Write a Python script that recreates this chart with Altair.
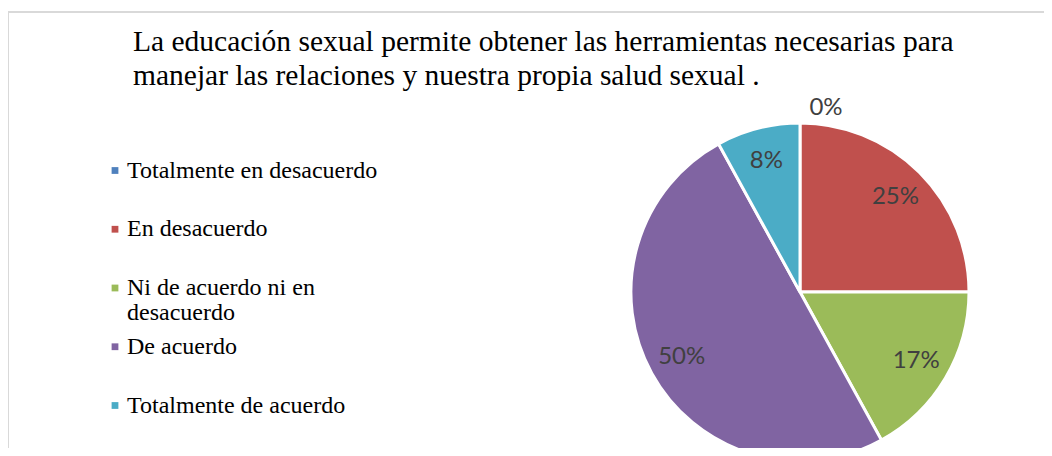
import altair as alt
import pandas as pd

categories = [
    "Totalmente en desacuerdo",
    "En desacuerdo",
    "Ni de acuerdo ni en desacuerdo",
    "De acuerdo",
    "Totalmente de acuerdo",
]
percentages = [0, 25, 17, 50, 8]
legend_labels = [
    "Totalmente en desacuerdo",
    "En desacuerdo",
    "Ni de acuerdo ni en\ndesacuerdo",
    "De acuerdo",
    "Totalmente de acuerdo",
]
colors = ["#4F81BD", "#C0504D", "#9BBB59", "#8064A2", "#4BACC6"]
title_lines = [
    "La educación sexual permite obtener las herramientas necesarias para",
    "manejar las relaciones y nuestra propia salud sexual .",
]

df = pd.DataFrame({
    "cat": categories,
    "pct": percentages,
    "label": legend_labels,
    "idx": list(range(len(categories))),
})

W, H = 1036, 440
CX, CY, R = 792, 284, 169

color = alt.Color("cat:N", scale=alt.Scale(domain=categories, range=colors), legend=None)
theta = alt.Theta("pct:Q", stack=True)
order = alt.Order("idx:Q")

base = alt.Chart(df)

pie = base.mark_arc(outerRadius=R, stroke="white", strokeWidth=3).encode(
    theta=theta, color=color, order=order,
    x=alt.value(CX), y=alt.value(CY),
)

labels = base.transform_calculate(txt="datum.pct + '%'").transform_filter(
    "datum.pct > 0"
).mark_text(radius=135, font="Lato", fontSize=24, color="#404040").encode(
    theta=theta, order=order, text="txt:N",
    x=alt.value(CX), y=alt.value(CY),
)

zero_labels = base.transform_calculate(txt="datum.pct + '%'").transform_filter(
    "datum.pct == 0"
).mark_text(radius=184, dx=26, font="Lato", fontSize=24, color="#404040").encode(
    theta=theta, order=order, text="txt:N",
    x=alt.value(CX), y=alt.value(CY),
)

ypos = alt.Y(
    "cat:N",
    scale=alt.Scale(type="point", domain=categories, range=[162.5, 397.5], padding=0),
    axis=None,
)

legend_sym = base.mark_square(size=46, opacity=1, filled=True).encode(
    x=alt.value(107), y=ypos, color=color,
)

legend_txt = base.mark_text(
    align="left", baseline="alphabetic", dy=7, lineBreak="\n", lineHeight=25,
    font="Liberation Serif", fontSize=24, color="#000000",
).encode(x=alt.value(119), y=ypos, text="label:N")

title_df = pd.DataFrame({"t": ["\n".join(title_lines)]})
title = alt.Chart(title_df).mark_text(
    align="left", baseline="alphabetic", lineBreak="\n", lineHeight=34,
    font="Liberation Serif", fontSize=29.5, color="#000000",
).encode(x=alt.value(125), y=alt.value(43), text="t:N")

frame_df = pd.DataFrame({"k": [0]})
top_line = alt.Chart(frame_df).mark_rule(color="#d9d9d9", strokeWidth=2).encode(
    x=alt.value(0), x2=alt.value(W), y=alt.value(4)
)
left_line = alt.Chart(frame_df).mark_rule(color="#d9d9d9", strokeWidth=2).encode(
    x=alt.value(0), y=alt.value(3), y2=alt.value(H)
)

chart = alt.layer(
    top_line, left_line, pie, labels, zero_labels, legend_sym, legend_txt, title
).properties(
    width=W, height=H, autosize=alt.AutoSizeParams(type="none"), padding=0,
    background="white",
).configure_view(stroke=None)

chart.save("out.html", embed_options={"renderer": "svg", "actions": False})
